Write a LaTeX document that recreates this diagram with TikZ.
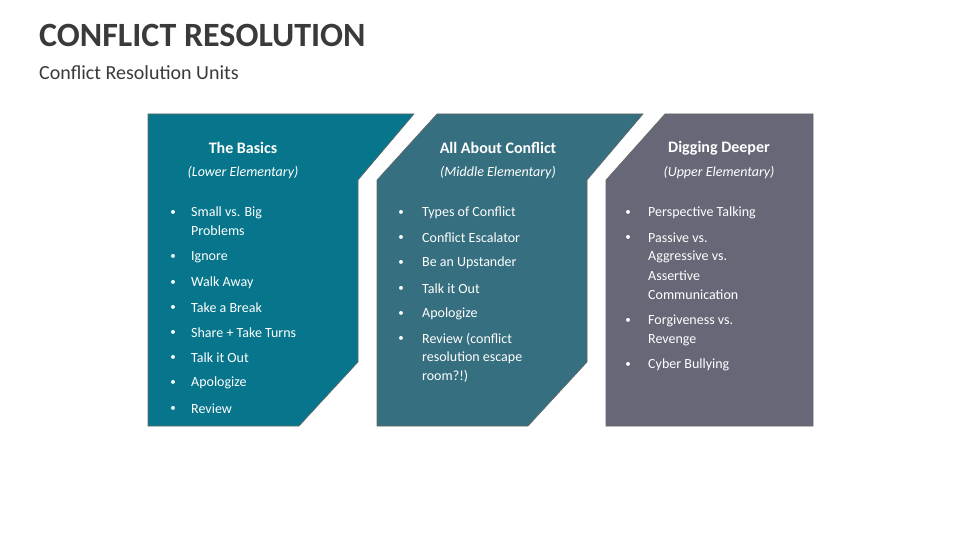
\documentclass[tikz,border=0pt]{standalone}
\usepackage{fontspec}
\setmainfont{Carlito}
\definecolor{pa}{HTML}{07768C}
\definecolor{pb}{HTML}{366F7F}
\definecolor{pc}{HTML}{666877}
\definecolor{tg}{HTML}{3A3A3A}
\tikzset{
 panel/.style={draw=black!60, line width=0.6pt},
 hd/.style={text=white, font=\fontsize{16}{19}\selectfont\bfseries},
 sub/.style={text=white, font=\fontsize{14}{17}\selectfont\itshape},
 it/.style={text=white, anchor=west, inner sep=0pt, font=\fontsize{14}{17}\selectfont},
 bl/.style={text=white, inner sep=0pt, font=\fontsize{11}{13}\selectfont},
}
\begin{document}
\begin{tikzpicture}[x=1pt,y=-1pt]
\useasboundingbox (0,0) rectangle (960,540);
\node[anchor=west, inner sep=0pt, text=tg, font=\fontsize{34}{40}\selectfont\bfseries] (title) at (39,35) {CONFLICT RESOLUTION};
\node[anchor=west, inner sep=0pt, text=tg, font=\fontsize{20}{24}\selectfont] (subt) at (39,73) {Conflict Resolution Units};
\fill[pa,panel] (148,114) -- (414,114) -- (358,180) -- (358,362) -- (299,426) -- (148,426) -- cycle;
\fill[pb,panel] (437,114) -- (643,114) -- (587,180) -- (587,362) -- (528,426) -- (377,426) -- (377,180) -- cycle;
\fill[pc,panel] (665,114) -- (813,114) -- (813,426) -- (606,426) -- (606,180) -- cycle;
\node[hd] (h1) at (243,148) {The Basics};
\node[sub] (s1) at (243,173) {(Lower Elementary)};
\node[hd] (h2) at (498,148) {All About Conflict};
\node[sub] (s2) at (498,173) {(Middle Elementary)};
\node[hd] (h3) at (719,148) {Digging Deeper};
\node[sub] (s3) at (719,173) {(Upper Elementary)};
\foreach \y/\t in {213/Small vs. Big,231/Problems,257/Ignore,283/Walk Away,308/Take a Break,333/Share + Take Turns,358/Talk it Out,383/Apologize,409/Review}
  \node[it] at (191,\y) {\t};
\foreach \y in {213,257,283,308,333,358,383,409} \node[bl] at (173,\y) {\textbullet};
\foreach \y/\t in {213/Types of Conflict,238/Conflict Escalator,263/Be an Upstander,289/Talk it Out,314/Apologize,339/Review (conflict,358/resolution escape,376/room?!)}
  \node[it] at (422,\y) {\t};
\foreach \y in {213,238,263,289,314,339} \node[bl] at (401,\y) {\textbullet};
\foreach \y/\t in {213/Perspective Talking,238/Passive vs.,257/Aggressive vs.,276/Assertive,295/Communication,321/Forgiveness vs.,340/Revenge,365/Cyber Bullying}
  \node[it] at (648,\y) {\t};
\foreach \y in {213,238,321,365} \node[bl] at (628,\y) {\textbullet};
\end{tikzpicture}
\end{document}
